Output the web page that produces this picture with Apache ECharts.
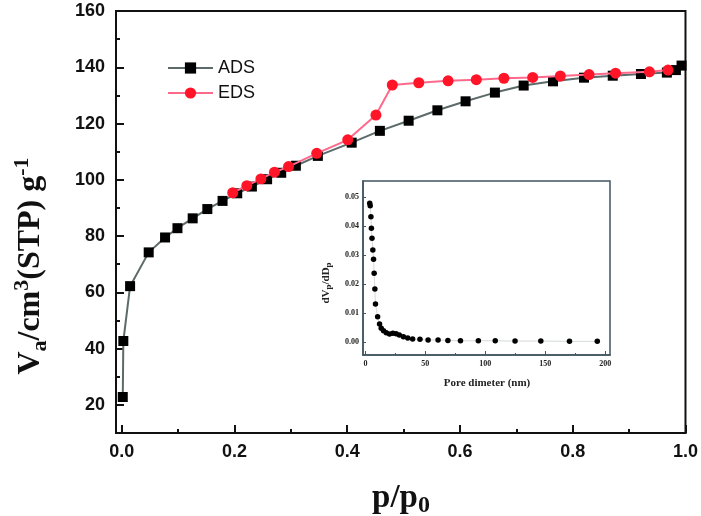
<!DOCTYPE html>
<html><head><meta charset="utf-8">
<script src="https://cdn.jsdelivr.net/npm/echarts@6/dist/echarts.min.js"></script>
<style>html,body{margin:0;padding:0;background:#fff}#c{width:701px;height:516px}</style>
</head><body><div id="c"></div>
<script>
// ---- data ----
const adsX = [0.002,0.003,0.015,0.048,0.077,0.099,0.126,0.152,0.179,0.205,0.231,0.258,0.283,0.309,0.348,0.408,0.458,0.509,0.560,0.610,0.662,0.713,0.765,0.820,0.871,0.921,0.967,0.983,0.993];
const adsY = [22.8,42.7,62.2,74.2,79.5,82.8,86.3,89.6,92.5,95.2,97.6,100.2,102.5,105.0,108.5,113.2,117.4,121.0,124.7,127.9,131.0,133.5,135.0,136.3,137.0,137.6,138.1,139.0,140.6];
const edsX = [0.197,0.222,0.247,0.271,0.296,0.346,0.401,0.451,0.480,0.527,0.579,0.629,0.678,0.729,0.778,0.829,0.876,0.936,0.969];
const edsY = [95.4,97.9,100.3,102.7,104.7,109.4,114.2,123.0,133.7,134.5,135.2,135.6,136.1,136.4,136.9,137.4,137.9,138.4,139.0];
const poreX = [3.6,4.0,4.6,5.0,5.5,6.2,6.8,7.3,7.9,8.4,10.2,11.8,13.2,15.1,17.4,20.1,22.9,25.6,28.3,31.7,35.3,39.4,45.5,52.3,60.6,68.8,79.3,94.2,108.3,124.8,146.3,170.2,193.4];
const poreY = [0.0478,0.0470,0.0432,0.0392,0.0358,0.0317,0.0285,0.0237,0.0183,0.0131,0.0087,0.0062,0.0047,0.0039,0.0032,0.0027,0.0030,0.0028,0.0024,0.0018,0.0014,0.0010,0.0009,0.0007,0.0007,0.0005,0.0004,0.0004,0.0004,0.0003,0.0003,0.0002,0.0002];
const mainXLabels = [0,0.2,0.4,0.6,0.8,1.0];
const mainXMinor = [0.1,0.3,0.5,0.7,0.9];
const mainYLabels = [20,40,60,80,100,120,140,160];
const mainYMinor = [30,50,70,90,110,130,150];
const insetXLabels = [0,50,100,150,200];
const insetXMinor = [25,75,125,175];
const insetYLabels = [0,0.01,0.02,0.03,0.04,0.05];

const zip = (a,b) => a.map((v,i)=>[v,b[i]]);
const serif = "'Liberation Serif','DejaVu Serif',serif";
const sans = "'Liberation Sans',Arial,sans-serif";
const insetCol = '#3f5560';

const chart = echarts.init(document.getElementById('c'));
const hidden = {show:false};
chart.setOption({
  animation:false,
  backgroundColor:'#fff',
  grid:[
    {left:116, right:14, top:11, bottom:83, show:true, borderColor:'#111', borderWidth:2, backgroundColor:'transparent'},
    {left:363, right:91, top:181, bottom:161, show:true, borderColor:insetCol, borderWidth:1.5, backgroundColor:'#fff', z:5}
  ],
  legend:{
    data:['ADS','EDS'], orient:'vertical', left:162, top:53,
    itemWidth:45, itemHeight:14, itemGap:5,
    textStyle:{fontFamily:sans, fontSize:18, color:'#111', lineHeight:20}
  },
  xAxis:[
    {type:'value', gridIndex:0, position:'bottom', min:-0.01, max:1.0,
     axisLine:{onZero:false, lineStyle:{color:'#111', width:2}},
     axisTick:{inside:true, length:8, customValues:mainXLabels, lineStyle:{color:'#111', width:2}},
     axisLabel:{customValues:mainXLabels, formatter:v=>v.toFixed(1), fontFamily:sans, fontWeight:'bold', fontSize:18, color:'#111', margin:10},
     splitLine:hidden},
    {type:'value', gridIndex:0, position:'bottom', min:-0.01, max:1.0,
     axisLine:{show:false, onZero:false},
     axisTick:{inside:true, length:4, customValues:mainXMinor, lineStyle:{color:'#111', width:2}},
     axisLabel:hidden, splitLine:hidden},
    {type:'value', gridIndex:1, position:'bottom', min:-2, max:204,
     axisLine:{onZero:false, lineStyle:{color:insetCol, width:1.5}},
     axisTick:{inside:true, length:4, customValues:insetXLabels, lineStyle:{color:insetCol, width:1}},
     axisLabel:{customValues:insetXLabels, fontFamily:serif, fontWeight:'bold', fontSize:8, color:'#222', margin:5},
     splitLine:hidden, z:6},
    {type:'value', gridIndex:1, position:'bottom', min:-2, max:204,
     axisLine:{show:false, onZero:false},
     axisTick:{inside:true, length:2, customValues:insetXMinor, lineStyle:{color:insetCol, width:1}},
     axisLabel:hidden, splitLine:hidden, z:6}
  ],
  yAxis:[
    {type:'value', gridIndex:0, position:'left', min:10, max:160,
     axisLine:{onZero:false, lineStyle:{color:'#111', width:2}},
     axisTick:{inside:true, length:8, customValues:mainYLabels, lineStyle:{color:'#111', width:2}},
     axisLabel:{customValues:mainYLabels, fontFamily:sans, fontWeight:'bold', fontSize:18, color:'#111', margin:11},
     splitLine:hidden},
    {type:'value', gridIndex:0, position:'left', min:10, max:160,
     axisLine:{show:false, onZero:false},
     axisTick:{inside:true, length:4, customValues:mainYMinor, lineStyle:{color:'#111', width:2}},
     axisLabel:hidden, splitLine:hidden},
    {type:'value', gridIndex:1, position:'left', min:-0.0045, max:0.0555,
     axisLine:{onZero:false, lineStyle:{color:insetCol, width:1.5}},
     axisTick:{inside:true, length:3, customValues:insetYLabels, lineStyle:{color:insetCol, width:1}},
     axisLabel:{customValues:insetYLabels, formatter:v=>v.toFixed(2), fontFamily:serif, fontWeight:'bold', fontSize:8, color:'#222', margin:4},
     splitLine:hidden, z:6}
  ],
  series:[
    {name:'ADS', type:'line', xAxisIndex:0, yAxisIndex:0, data:zip(adsX,adsY),
     symbol:'rect', symbolSize:10, showAllSymbol:true,
     itemStyle:{color:'#000'}, lineStyle:{color:'#5d6a6a', width:2}, z:3},
    {name:'EDS', type:'line', xAxisIndex:0, yAxisIndex:0, data:zip(edsX,edsY),
     symbol:'circle', symbolSize:11, showAllSymbol:true,
     itemStyle:{color:'#ff1428'}, lineStyle:{color:'#ff6a8c', width:2}, z:4},
    {name:'pore', type:'line', xAxisIndex:2, yAxisIndex:2, data:zip(poreX,poreY),
     symbol:'circle', symbolSize:5.5, showAllSymbol:true,
     itemStyle:{color:'#000'}, lineStyle:{color:'#d4dada', width:1}, z:7}
  ],
  graphic:[
    {type:'text', x:31, y:266, rotation:Math.PI/2, z:10,
     style:{text:'{m|V}{sub|a}{m|/cm}{sup|3}{m|(STP) g}{sup|-1}', textAlign:'center', textVerticalAlign:'middle',
       rich:{
         m:{fontFamily:serif, fontWeight:'bold', fontSize:32, lineHeight:40, fill:'#111'},
         sub:{fontFamily:serif, fontWeight:'bold', fontSize:22, lineHeight:22, verticalAlign:'bottom', fill:'#111'},
         sup:{fontFamily:serif, fontWeight:'bold', fontSize:22, lineHeight:22, verticalAlign:'top', fill:'#111'}
       }}},
    {type:'text', x:401, y:498, z:10,
     style:{text:'{m|p/p}{sub|0}', textAlign:'center', textVerticalAlign:'middle',
       rich:{
         m:{fontFamily:serif, fontWeight:'bold', fontSize:33, lineHeight:40, fill:'#111'},
         sub:{fontFamily:serif, fontWeight:'bold', fontSize:24, lineHeight:24, verticalAlign:'bottom', fill:'#111'}
       }}},
    {type:'text', x:326, y:283, rotation:Math.PI/2, z:10,
     style:{text:'{m|dV}{sub|p}{m|/dD}{sub|p}', textAlign:'center', textVerticalAlign:'middle',
       rich:{
         m:{fontFamily:serif, fontWeight:'bold', fontSize:11, lineHeight:14, fill:'#222'},
         sub:{fontFamily:serif, fontWeight:'bold', fontSize:9, lineHeight:9, verticalAlign:'bottom', fill:'#222'}
       }}},
    {type:'text', x:487, y:383, z:10,
     style:{text:'Pore dimeter (nm)', textAlign:'center', textVerticalAlign:'middle',
       fontFamily:serif, fontWeight:'bold', fontSize:11, fill:'#222'}}
  ]
});
</script>
</body></html>
